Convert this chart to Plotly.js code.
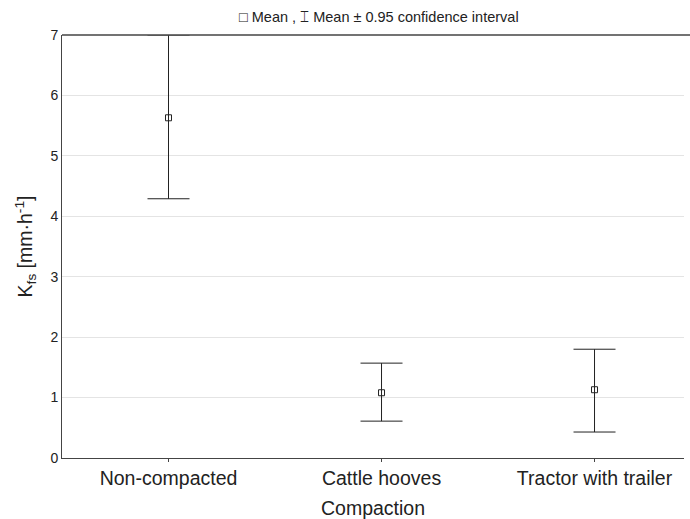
<!DOCTYPE html>
<html>
<head>
<meta charset="utf-8">
<script src="https://cdn.plot.ly/plotly-3.0.1.min.js"></script>
<style>html,body{margin:0;padding:0;background:#fff;overflow:hidden;} #chart{width:690px;height:519px;}</style>
</head>
<body>
<div id="chart"></div>
<script>
const categories = ["Non-compacted", "Cattle hooves", "Tractor with trailer"];
const means = [5.63, 1.08, 1.13];
const upper = [7.0, 1.57, 1.80];
const lower = [4.29, 0.61, 0.43];

const trace = {
  x: categories,
  y: means,
  type: 'scatter',
  mode: 'markers',
  marker: {symbol: 'square-open', size: 6, color: '#222', line: {width: 1, color: '#222'}},
  error_y: {
    type: 'data',
    symmetric: false,
    array: upper.map((u, i) => u - means[i]),
    arrayminus: means.map((m, i) => m - lower[i]),
    color: '#222',
    thickness: 1,
    width: 21
  },
  showlegend: false,
  hoverinfo: 'skip',
  cliponaxis: false
};

const layout = {
  width: 690,
  height: 519,
  margin: {l: 62, r: 6, t: 35, b: 61, pad: 0},
  paper_bgcolor: '#fff',
  plot_bgcolor: '#fff',
  font: {family: 'Liberation Sans, Arial, sans-serif', color: '#222'},
  xaxis: {
    type: 'category',
    range: [-0.5, 2.42],
    showgrid: false,
    showline: true,
    mirror: false,
    linecolor: '#444',
    linewidth: 1,
    ticks: 'outside',
    ticklen: 3,
    tickcolor: '#444',
    tickfont: {size: 19.5, color: '#222'},
    title: {text: 'Compaction', font: {size: 19.5, color: '#222'}, standoff: 13},
    zeroline: false
  },
  yaxis: {
    range: [0, 7],
    tickvals: [0, 1, 2, 3, 4, 5, 6, 7],
    showgrid: true,
    gridcolor: '#e4e4e4',
    gridwidth: 1,
    showline: true,
    mirror: false,
    linecolor: '#444',
    linewidth: 1,
    ticks: '',
    tickfont: {size: 14, color: '#222'},
    title: {text: 'K<sub>fs</sub> [mm·h<sup>-1</sup>]', font: {size: 19.5, color: '#222'}, standoff: 12},
    zeroline: false
  },
  shapes: [{
    type: 'line', xref: 'paper', yref: 'paper',
    x0: 0, x1: 1.01, y0: 1, y1: 1,
    line: {color: '#444', width: 1.5}
  }],
  annotations: [{
    xref: 'paper', yref: 'paper',
    x: 0.51, y: 1, yshift: 18,
    xanchor: 'center', yanchor: 'middle',
    showarrow: false,
    text: '□ Mean , ⌶ Mean ± 0.95 confidence interval',
    font: {size: 14.5, color: '#222'}
  }]
};

Plotly.newPlot('chart', [trace], layout, {displayModeBar: false, staticPlot: true});
</script>
</body>
</html>
